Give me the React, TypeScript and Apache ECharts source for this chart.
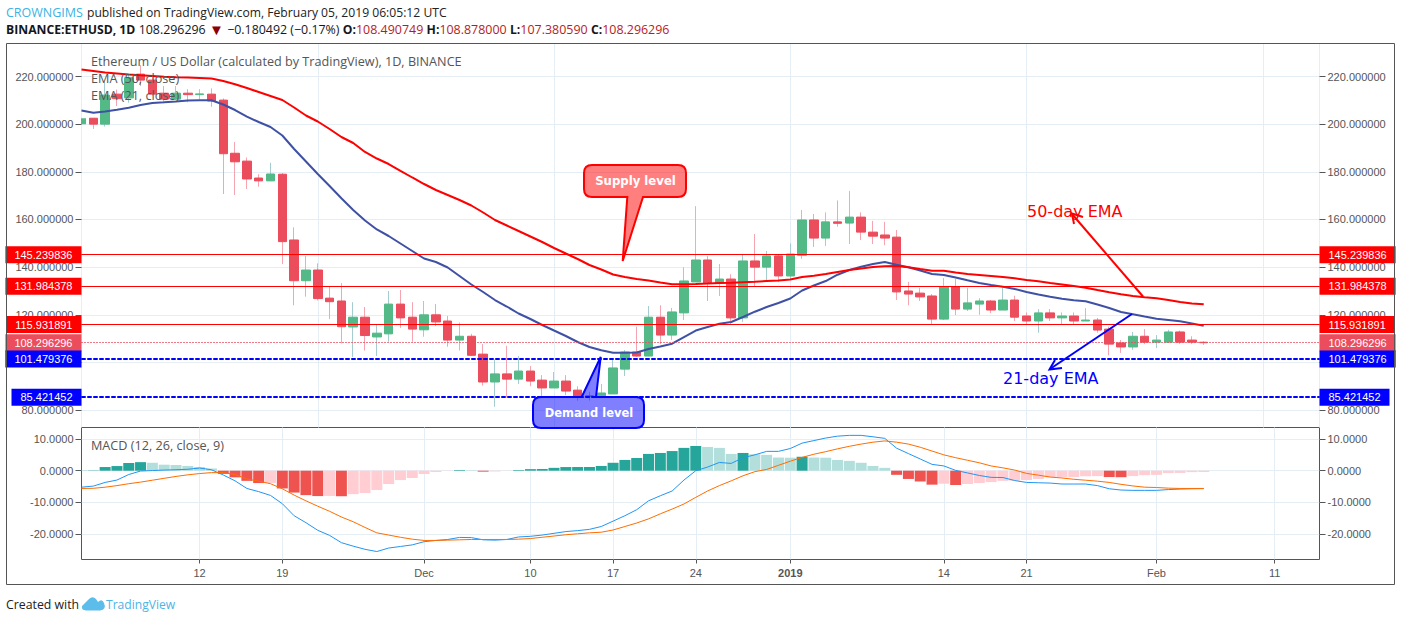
import React, { useEffect, useRef } from "react";
import * as echarts from "echarts";

const opens = [200,202.5,200,212.6,211,221,218.5,213,210.5,213,212.4,212.6,210.1,187.8,184.5,177.4,176.2,179,151.4,134.3,138.8,127,125.8,114.9,119,110.7,112,124.5,119,113.7,120,117.4,109.4,111,103.5,91.8,95.2,93,96.4,92.6,89.3,92.2,88.4,85.6,86,86.8,97.2,104.4,102.7,119,111.5,120.8,133.8,143,133.3,135,118.7,142.6,140,144.7,136.3,145,159.8,152.2,159,158.5,161,154.7,153.5,152.6,130,129.1,127.9,118.2,131.7,122.4,124.5,125.8,122,126.2,119.5,117.4,120.8,118.7,119.5,117.4,117.8,114,108.2,106.5,111,108.5,108.5,112.8,109.4,108.49];
const closes = [202.5,200,212.2,210.7,219.5,218.5,212.6,210.5,213,212.4,212.7,209.7,187.6,184.2,177,176.2,179.1,150.7,134.3,138.8,126.8,125.5,115,119,111.3,112.3,124.5,118.7,114,120,117,109.4,111,103,91.8,95.2,93,96.4,92.2,89.3,92.2,88,85.5,86,87.2,97.7,104.4,102.7,119,111.5,121.2,134.2,143,133.3,135,118.7,142.6,140,144.7,136.3,145.5,159.8,152.2,159,158.4,161,154.7,153,152.2,129.6,128.7,127.5,118.2,131.7,122.4,125,125.8,122,126.2,119,117.4,120.8,118.7,119.5,117.4,117.8,113.6,107.7,106.5,111,108.5,109.4,112.8,108.5,108.5,108.296];
const highs = [203,202.5,217.8,214.5,221,224.8,220,216,216,214.7,214.7,215,210.8,192.5,186,179,183.8,179.5,156.7,144.7,141.6,131.8,133.3,125.3,123.3,115.7,130,130.4,125.3,125.8,124.5,119.5,116.8,112,107.7,101.3,107,102.7,98.5,94.7,96,94.7,90,87.7,91,101.5,105.2,115,123.7,124,122.9,140,165.6,144.7,141.3,137,145.5,153.9,146.8,145,150,164,162.3,163,168,172,163,159.4,159,155.6,133.8,131.3,128.7,135.4,135,131.3,127,126.2,132,128,121,122.4,122.4,121,121,122.8,118.7,115,109.4,112.8,114,111.5,113.7,113.4,111,108.878];
const lows = [199.5,198,199,207.6,209,216,212,208.8,210,209.2,210.4,207.3,170.7,170.3,172.8,173.8,176.2,141.3,124,127.6,126,118.2,108,102.3,105,102.7,108.7,114.5,108.7,110.8,115.3,106.6,105,102.7,90.3,81.4,85.2,91,90,85.6,89.3,86.3,84,84,86,86.8,94.3,102.4,102.7,107.7,109.4,117.8,133.8,125.8,127.9,116,117,132,134.6,133.8,134.6,143.5,148.5,148.9,157,149.7,151.4,149.7,149.2,126.2,124,125.8,116,117.8,119.9,121.6,120,120.7,122,117.4,115.7,112.5,117.4,116.1,116,117.4,112.5,103,104,105.3,107.7,106,108.5,107.7,107.7,107.38];
const ema50 = [222.94,222.31,221.68,221.26,220.84,220.5,220.21,219.92,219.71,219.54,219.37,219.2,218.11,216.73,215.17,213.5,211.82,210.14,206.99,203.63,201.12,197.97,194.61,192.09,188.32,185.59,183.28,180.43,177.62,174.89,172.37,170.27,168.17,165.87,162.93,159.78,157.47,155.17,152.86,150.55,148.03,145.72,143.42,140.9,139.01,136.91,135.86,135.02,134.39,133.55,132.8,132.8,132.92,133.09,133.34,133.47,133.68,133.89,134.18,134.39,134.81,135.86,136.41,137.12,137.96,138.8,139.43,140.06,140.4,140.48,139.98,139.22,138.51,138.51,137.75,137.12,136.7,136.28,135.86,135.32,134.61,134.06,133.34,132.72,132.09,131.37,130.41,129.49,128.6,127.89,127.34,126.92,126.21,125.37,124.74,124.4];
const ema21 = [205.73,204.81,205.31,206.07,206.91,208.04,208.88,209.17,209.51,209.93,210.01,210.01,208.25,205.94,203.13,200.91,198.81,195.24,189.58,184.33,179.09,174.05,168.89,163.98,159.57,155.8,153.07,149.92,146.77,143.63,142.16,139.85,136.28,132.71,129.57,126.21,123.48,120.55,118.24,115.72,113.41,111.11,108.59,106.49,105.1,104.1,104.1,104.18,105.65,106.7,107.87,110.68,113.41,114.88,116.27,116.98,119.08,121.3,123.27,124.95,126.84,130.2,132.3,134.18,136.83,138.8,140.19,141.32,142.16,140.98,139.93,138.59,137.12,136.7,135.65,134.48,133.34,132.5,131.79,130.83,129.57,128.52,127.6,126.76,126.09,125.67,124.32,122.86,121.18,120.25,119.29,118.37,117.82,117.27,116.35,115.43];
const macdHist = [0.05,0.1,1.16,1.47,2.4,2.7,2.5,1.9,1.8,1.5,1.15,0.7,-1,-2.1,-3.2,-3.9,-3.85,-5.6,-6.9,-7.7,-8,-7.95,-8.05,-7.4,-7.05,-6.1,-4.2,-2.95,-2.3,-1.05,-0.4,-0.05,0.2,0.15,-0.3,-0.25,-0.05,0.2,0.5,0.55,0.9,1.15,1.16,1.17,1.5,2.5,3.4,4,5.3,5.6,6.2,7.2,7.8,7.5,7.2,5.3,5.6,5.2,5,4.15,4.1,4.4,4.15,4.1,3.4,3.1,2.5,1.5,0.9,-1.3,-2.6,-3.4,-4.4,-4.1,-4.5,-4.2,-3.9,-3.6,-3.2,-3.15,-2.95,-2.6,-2.1,-2.05,-2,-1.75,-1.7,-2,-2.05,-1.7,-1.4,-1.3,-0.75,-0.7,-0.45,-0.4];
const macdLine = [-5.2,-4.85,-3.7,-2.95,-1.2,-0.1,0.05,0.2,0.3,0.45,0.85,0.3,-1.35,-3.2,-5.6,-6.6,-7.8,-10.4,-14.2,-16.4,-18.8,-20.4,-22.7,-23.8,-24.8,-25.5,-24.4,-23.9,-23.4,-22.4,-22,-21.7,-21.05,-21.1,-21.8,-21.9,-21.7,-20.9,-20.7,-20.3,-19.75,-19.2,-18.9,-18.5,-17.6,-15.9,-14.2,-12.3,-9.5,-7.9,-6.4,-2.95,0,1.15,2.6,2.3,4.1,5,6.1,6.1,7,8.7,9.5,10.3,10.9,11.15,11.15,10.7,10.2,7.1,5.4,3.7,2,1.5,0.1,-0.7,-1.5,-2.1,-2.15,-3.1,-3.7,-3.8,-3.9,-4.2,-4.2,-4.2,-4.7,-5.7,-6.1,-6.2,-6.2,-6.2,-5.95,-5.8,-5.7,-5.65];
const macdSignal = [-5.6,-5.55,-5.2,-4.7,-4.1,-3.6,-3,-2.4,-1.8,-1.3,-0.9,-0.6,-0.6,-1.2,-2.6,-3.3,-4.1,-5.7,-7.7,-9.5,-11.2,-12.8,-14.6,-16.1,-17.9,-19.6,-20.3,-21,-21.6,-22,-22,-21.9,-21.8,-21.7,-21.7,-21.7,-21.7,-21.6,-21.4,-21,-20.6,-20.2,-19.9,-19.6,-19.4,-18.7,-17.6,-16.5,-15.2,-13.6,-12.1,-10.5,-8.4,-6.4,-4.7,-3.2,-1.6,-0.3,0.4,1.7,3,4.2,5.2,6,6.9,7.7,8.4,9,9.4,9,8.4,7.4,6.2,5,4.1,3.3,2.5,1.5,0.9,0.2,-0.85,-1.4,-2,-2.3,-2.7,-3,-3.3,-3.7,-4.3,-4.8,-5.2,-5.3,-5.5,-5.6,-5.6,-5.6];

const xTickIndex = [10, 17, 29, 38, 45, 52, 60, 73, 80, 91, 101];
const xTickLabels = ["12", "19", "Dec", "10", "17", "24", "{b|2019}", "14", "21", "Feb", "11"];
const priceTicks = [80, 100, 120, 140, 160, 180, 200, 220];
const priceLabelTicks = [80, 120, 140, 160, 180, 200, 220];
const macdTicks = [-20, -10, 0, 10];
const redLevels = [145.239836, 131.984378, 115.931891];
const blueLevels = [101.479376, 85.421452];
const lastPrice = 108.296296;

const FONT = '"Liberation Sans", Arial, sans-serif';
const UI = '"Open Sans", "Noto Sans", sans-serif';
const AXIS = "#555555";
const GRID = "#e6eef5";
const UP = "#53b987";
const DOWN = "#eb4d5c";

const PANE_L = 81.5;
const PANE_R = 81.5;
const X_MAX = 104.8;

echarts.graphic.registerShape(
  "supplyCallout",
  echarts.graphic.extendPath(
    "M592 165 L678 165 Q686 165 686 173 L686 189 Q686 197 678 197 L643 197 L622.7 261 L627.3 197 L592 197 Q584 197 584 189 L584 173 Q584 165 592 165 Z",
    {}
  )
);
echarts.graphic.registerShape(
  "demandCallout",
  echarts.graphic.extendPath(
    "M541 397 L581.7 397 L600.7 357 L596 397 L636 397 Q644 397 644 405 L644 420 Q644 428 636 428 L541 428 Q533 428 533 420 L533 405 Q533 397 541 397 Z",
    {}
  )
);
echarts.graphic.registerShape(
  "tvLogo",
  echarts.graphic.extendPath(
    "M82 606 L88 600 Q92 595 96 599 L98 602 Q102 598 104 603 Q107 610 100 610.5 L86 610.5 Q81 610 82 606 Z",
    {}
  )
);

function levelLines(value: number, color: string, boxColor: string, width: number, dash: any) {
  const mk = (position: string) => ({
    yAxis: value,
    label: {
      show: true,
      position,
      distance: 0,
      formatter: value.toFixed(6),
      color: "#ffffff",
      fontFamily: FONT,
      fontSize: 11,
      backgroundColor: boxColor,
      padding: [3, 9, 2, 9],
      lineHeight: 12,
    },
    lineStyle: { color, width, type: dash },
  });
  return [mk("start"), mk("end")];
}

function text(x: number, y: number, t: string, font: string, fill: string, extra: any = {}) {
  return {
    type: "text",
    x,
    y,
    z: 100,
    silent: true,
    style: { text: t, font, fill, textVerticalAlign: "middle", ...extra },
  };
}

function line(points: number[][], stroke: string, lineWidth = 2) {
  return {
    type: "polyline",
    z: 100,
    silent: true,
    shape: { points },
    style: { stroke, lineWidth, fill: "none" },
  };
}

export default function App() {
  const ref = useRef<HTMLDivElement>(null);

  useEffect(() => {
    const chart = echarts.init(ref.current!, undefined, { renderer: "svg" });
    const days = opens.map((_, i) => i);
    const fullDays = days.slice(1);
    const candle = fullDays.map((i) => [i, opens[i], closes[i], lows[i], highs[i]]);
    const bodies = fullDays.map((i) => [
      i,
      opens[i],
      closes[i],
      Math.min(opens[i], closes[i]),
      Math.max(opens[i], closes[i]),
    ]);
    const histData = days.map((i) => {
      const v = macdHist[i];
      const prev = i > 0 ? macdHist[i - 1] : 0;
      const color = v >= 0 ? (v >= prev ? "#26a69a" : "#b2dfdb") : v <= prev ? "#ef5350" : "#ffcdd2";
      return { value: [i, v], itemStyle: { color } };
    });

    const xCommon = {
      type: "value",
      min: 0,
      max: X_MAX,
      position: "bottom",
      axisLine: { show: false, onZero: false },
      splitLine: { show: true, customValues: xTickIndex, lineStyle: { color: GRID, width: 1 } },
    };
    const yCommon = (min: number, max: number, ticks: number[], labelTicks: number[], digits: number, gridIndex: number) => {
      const base = {
        type: "value",
        gridIndex,
        min,
        max,
        scale: true,
        axisLine: { show: false, onZero: false },
        axisTick: { show: true, length: 6, customValues: ticks, lineStyle: { color: AXIS } },
        axisLabel: {
          show: true,
          customValues: labelTicks,
          color: AXIS,
          fontFamily: FONT,
          fontSize: 11,
          margin: 8,
          formatter: (v: number) => v.toFixed(digits),
        },
      };
      return [
        {
          ...base,
          position: "left",
          splitLine: { show: true, customValues: ticks, lineStyle: { color: GRID, width: 1 } },
        },
        { ...base, position: "right", splitLine: { show: false } },
      ];
    };

    const graphics: any[] = [
      {
        type: "rect",
        z: 90,
        silent: true,
        shape: { x: 6.5, y: 43.5, width: 1388, height: 541 },
        style: { fill: "none", stroke: AXIS, lineWidth: 1 },
      },
      text(6, 12, "CROWNGIMS", `12.5px ${UI}`, "#3bb3e4"),
      text(87, 12, "published on TradingView.com, February 05, 2019 06:05:12 UTC", `12.15px ${UI}`, "#222222"),
      {
        type: "text",
        x: 6,
        y: 29,
        z: 100,
        silent: true,
        style: {
          text:
            "{b|BINANCE:ETHUSD, 1D} {n|108.296296} {t|▼} {n|−0.180492 (−0.17%)} {b|O:}{r|108.490749} {b|H:}{r|108.878000} {b|L:}{r|107.380590} {b|C:}{r|108.296296}",
          textVerticalAlign: "middle",
          rich: {
            b: { font: `bold 12.2px ${UI}`, fill: "#131722" },
            n: { font: `12.4px ${UI}`, fill: "#131722" },
            r: { font: `12.45px ${UI}`, fill: "#b71c1c" },
            t: { font: `15px ${UI}`, fill: "#8b0000" },
          },
        },
      },
      text(91, 60.5, "Ethereum / US Dollar (calculated by TradingView), 1D, BINANCE", `12.65px ${UI}`, "#555555"),
      text(91, 77.5, "EMA (50, close)", `12.65px ${UI}`, "#555555"),
      text(91, 94.5, "EMA (21, close)", `12.65px ${UI}`, "#555555"),
      text(91, 444.5, "MACD (12, 26, close, 9)", `12.65px ${UI}`, "#555555"),
      {
        type: "supplyCallout",
        x: 0,
        y: 0,
        z: 95,
        silent: true,
        style: { fill: "rgba(255,0,0,0.5)", stroke: "#ff0000", lineWidth: 2 },
      },
      {
        type: "demandCallout",
        x: 0,
        y: 0,
        z: 95,
        silent: true,
        style: { fill: "rgba(0,0,255,0.5)", stroke: "#0000ff", lineWidth: 2 },
      },
      text(635.5, 180.5, "Supply level", `bold 11.7px "DejaVu Sans", sans-serif`, "#ffffff", { textAlign: "center" }),
      text(589, 412.5, "Demand level", `bold 11.5px "DejaVu Sans", sans-serif`, "#ffffff", { textAlign: "center" }),
      text(1027, 211, "50-day EMA", `16px "DejaVu Sans", sans-serif`, "#ff0000"),
      text(1003, 378, "21-day EMA", `16px "DejaVu Sans", sans-serif`, "#0000ff"),
      line([[1143, 296.5], [1072, 214]], "#ff0000"),
      line([[1083, 217], [1072, 213.5], [1074, 224]], "#ff0000"),
      line([[1132, 314], [1050, 369]], "#0000ff"),
      line([[1055, 360], [1049.5, 369.5], [1062, 368]], "#0000ff"),
      text(6, 604, "Created with", `12.3px ${UI}`, "#222222"),
      { type: "tvLogo", x: 0, y: 0, z: 100, silent: true, style: { fill: "#5cbcea" } },
      text(106, 604, "TradingView", `12.1px ${UI}`, "#4db4e6"),
    ];

    const levels = [
      ...redLevels.flatMap((v) => levelLines(v, "#ff0000", "#ff0000", 1, "solid")),
      ...levelLines(lastPrice, DOWN, DOWN, 1, [1, 2]),
      ...blueLevels.flatMap((v) => levelLines(v, "#0000ff", "#0000ff", 2, [4, 2])),
    ];

    chart.setOption({
      animation: false,
      backgroundColor: "#ffffff",
      grid: [
        { left: PANE_L, right: PANE_R, top: 43.5, height: 384, show: true, borderColor: AXIS, borderWidth: 1, backgroundColor: "transparent" },
        { left: PANE_L, right: PANE_R, top: 427.5, height: 132, show: true, borderColor: AXIS, borderWidth: 1, backgroundColor: "transparent" },
      ],
      xAxis: [
        { ...xCommon, gridIndex: 0, axisTick: { show: false }, axisLabel: { show: false } },
        {
          ...xCommon,
          gridIndex: 1,
          axisTick: { show: true, length: 4, customValues: xTickIndex, lineStyle: { color: AXIS } },
          axisLabel: {
            show: true,
            customValues: xTickIndex,
            color: AXIS,
            fontFamily: FONT,
            fontSize: 11,
            margin: 8,
            formatter: (v: number) => xTickLabels[xTickIndex.indexOf(Math.round(v))] ?? "",
            rich: { b: { fontWeight: "bold", color: AXIS, fontFamily: FONT, fontSize: 11 } },
          },
        },
      ],
      yAxis: [
        ...yCommon(72.71, 233.85, priceTicks, priceLabelTicks, 6, 0),
        ...yCommon(-28.01, 13.63, macdTicks, macdTicks, 4, 1),
      ],
      graphic: { elements: graphics },
      series: [
        {
          type: "custom",
          name: "first day",
          coordinateSystem: "cartesian2d",
          xAxisIndex: 0,
          yAxisIndex: 0,
          clip: true,
          z: 3,
          data: [[0, opens[0], closes[0]]],
          encode: { x: 0, y: [1, 2] },
          renderItem: (_: any, api: any) => {
            const a = api.coord([api.value(0), api.value(1)]);
            const b = api.coord([api.value(0), api.value(2)]);
            return {
              type: "rect",
              shape: {
                x: a[0] - 4.5,
                y: Math.min(a[1], b[1]),
                width: 9,
                height: Math.abs(a[1] - b[1]),
              },
              style: { fill: UP },
            };
          },
        },
        {
          type: "candlestick",
          name: "wicks",
          xAxisIndex: 0,
          yAxisIndex: 0,
          barWidth: 1,
          data: candle,
          z: 2,
          itemStyle: { color: "#a5cdd0", color0: "#f5a5b0", borderColor: "#a5cdd0", borderColor0: "#f5a5b0", borderWidth: 1 },
        },
        {
          type: "candlestick",
          name: "ETHUSD",
          xAxisIndex: 0,
          yAxisIndex: 0,
          barWidth: 9,
          data: bodies,
          z: 3,
          itemStyle: { color: UP, color0: DOWN, borderColor: UP, borderColor0: DOWN, borderWidth: 1 },
        },
        {
          type: "line",
          name: "EMA 21",
          xAxisIndex: 0,
          yAxisIndex: 0,
          data: days.map((i) => [i, ema21[i]]),
          showSymbol: false,
          z: 4,
          lineStyle: { color: "#3f51a5", width: 2 },
        },
        {
          type: "line",
          name: "EMA 50",
          xAxisIndex: 0,
          yAxisIndex: 0,
          data: days.map((i) => [i, ema50[i]]),
          showSymbol: false,
          z: 4,
          lineStyle: { color: "#ff0000", width: 2 },
          markLine: { silent: true, symbol: "none", animation: false, precision: 6, data: levels },
        },
        {
          type: "bar",
          name: "Histogram",
          xAxisIndex: 1,
          yAxisIndex: 2,
          barWidth: 11,
          data: histData,
          z: 2,
        },
        {
          type: "line",
          name: "MACD",
          xAxisIndex: 1,
          yAxisIndex: 2,
          data: days.map((i) => [i, macdLine[i]]),
          showSymbol: false,
          z: 3,
          lineStyle: { color: "#2196f3", width: 1 },
        },
        {
          type: "line",
          name: "Signal",
          xAxisIndex: 1,
          yAxisIndex: 2,
          data: days.map((i) => [i, macdSignal[i]]),
          showSymbol: false,
          z: 4,
          lineStyle: { color: "#ff6d00", width: 1 },
        },
      ],
    });
    return () => chart.dispose();
  }, []);

  return (
    <div
      ref={ref}
      style={{ position: "absolute", left: 0, top: 0, width: 1401, height: 621, background: "#fff" }}
    />
  );
}
